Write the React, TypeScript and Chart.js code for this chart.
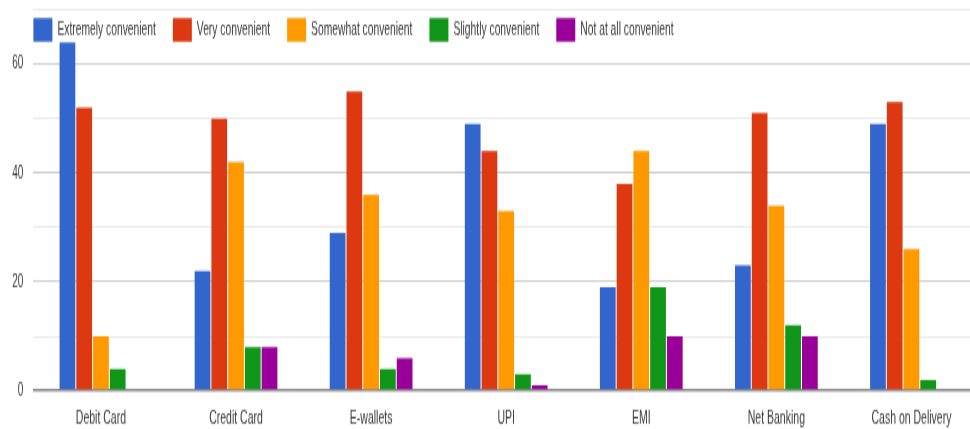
import React, { useEffect, useRef } from "react";
import { Chart, registerables } from "chart.js";

Chart.register(...registerables);

const categories = ["Debit Card", "Credit Card", "E-wallets", "UPI", "EMI", "Net Banking", "Cash on Delivery"];
const seriesNames = ["Extremely convenient", "Very convenient", "Somewhat convenient", "Slightly convenient", "Not at all convenient"];
const extremely = [64, 22, 29, 49, 19, 23, 49];
const very = [52, 50, 55, 44, 38, 51, 53];
const somewhat = [10, 42, 36, 33, 44, 34, 26];
const slightly = [4, 8, 4, 3, 19, 12, 2];
const notAtAll = [0, 8, 6, 1, 10, 10, 0];
const colors = ["#3366cc", "#dc3912", "#ff9900", "#109618", "#990099"];
const yTickLabels = [0, 20, 40, 60];

const FONT = '"Liberation Sans", Arial, sans-serif';
const TEXT = "#3a3a3a";
const CANVAS_W = 979;
const CANVAS_H = 245; // rendered, then shown stretched to 429px tall
const DISPLAY_H = 429;

const topLegend = {
  id: "topLegend",
  afterDraw(chart: any) {
    const ctx = chart.ctx;
    const { left, top } = chart.chartArea;
    ctx.save();
    ctx.font = `10.3px ${FONT}`;
    ctx.textBaseline = "middle";
    ctx.textAlign = "left";
    const boxW = 19;
    const boxH = 13.5;
    const y = top + 4.8;
    let x = left;
    chart.data.datasets.forEach((ds: any) => {
      ctx.fillStyle = ds.backgroundColor;
      ctx.fillRect(x, y, boxW, boxH);
      ctx.fillStyle = TEXT;
      ctx.fillText(ds.label, x + boxW + 5, y + boxH / 2 + 0.5);
      x += boxW + 5 + ctx.measureText(ds.label).width + 17;
    });
    ctx.restore();
  },
};

export default function App() {
  const ref = useRef<HTMLCanvasElement | null>(null);

  useEffect(() => {
    if (!ref.current) return;
    const values = [extremely, very, somewhat, slightly, notAtAll];
    const chart = new Chart(ref.current, {
      type: "bar",
      data: {
        labels: categories,
        datasets: seriesNames.map((name, i) => ({
          label: name,
          data: values[i],
          backgroundColor: colors[i],
          borderWidth: 0,
          categoryPercentage: 0.62,
          barPercentage: 0.94,
        })),
      },
      options: {
        animation: false,
        responsive: false,
        devicePixelRatio: 1,
        layout: { padding: { top: 5.5, right: 0, bottom: 0, left: 0 } },
        plugins: {
          legend: { display: false },
          tooltip: { enabled: false },
          title: { display: false },
        },
        scales: {
          x: {
            afterFit: (scale: any) => {
              scale.height = 21.9;
            },
            grid: { display: false, drawTicks: false },
            border: { display: false },
            ticks: {
              color: TEXT,
              font: { family: FONT, size: 10.5, lineHeight: 1.2 },
              padding: 9.3,
              maxRotation: 0,
              autoSkip: false,
            },
          },
          y: {
            min: 0,
            max: 70,
            afterFit: (scale: any) => {
              scale.width = 33.4;
              scale.paddingTop = 0;
              scale.paddingBottom = 0;
            },
            border: { display: false },
            grid: {
              drawTicks: false,
              color: (c: any) =>
                c.tick.value === 0 ? "#8a8a8a" : c.tick.value % 20 === 0 ? "#cfcfcf" : "#ebebeb",
              lineWidth: (c: any) => (c.tick.value === 0 ? 1.5 : 1),
            },
            ticks: {
              stepSize: 10,
              padding: 10,
              color: TEXT,
              font: { family: FONT, size: 10, lineHeight: 1.0 },
              callback: (v: any) => (yTickLabels.includes(Number(v)) ? String(v) : ""),
            },
          },
        },
      },
      plugins: [topLegend],
    });
    return () => chart.destroy();
  }, []);

  return (
    <div
      style={{
        position: "fixed",
        left: 0,
        top: 0,
        width: 970,
        height: DISPLAY_H,
        overflow: "hidden",
        background: "#fff",
      }}
    >
      <canvas
        ref={ref}
        width={CANVAS_W}
        height={CANVAS_H}
        style={{ display: "block", width: `${CANVAS_W}px`, height: `${DISPLAY_H}px` }}
      />
    </div>
  );
}
